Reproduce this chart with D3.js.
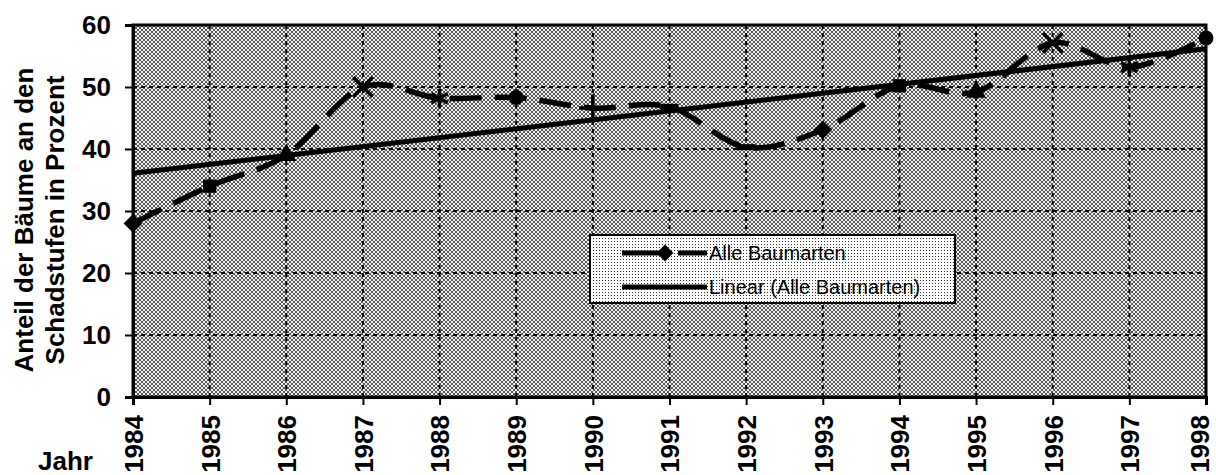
<!DOCTYPE html>
<html>
<head>
<meta charset="utf-8">
<script src="https://cdn.jsdelivr.net/npm/d3@7"></script>
<style>
  body { margin: 0; background: #fff; }
  svg { display: block; font-family: "Liberation Sans", Arial, sans-serif; }
</style>
</head>
<body>
<div id="chart"></div>
<script>
// Data
const years = [1984, 1985, 1986, 1987, 1988, 1989, 1990, 1991, 1992, 1993, 1994, 1995, 1996, 1997, 1998];
const shares = [28, 34, 39, 50, 48.2, 48.3, 46.6, 46.8, 40.3, 43.1, 50.2, 49.2, 57.1, 53.2, 57.9];
const markerTypes = ["diamond", "square", "triangle", "x", "star", "circle", "plus", "dash", "dash",
                     "diamond", "square", "triangle", "x", "star", "circle"];
const yTicks = [0, 10, 20, 30, 40, 50, 60];
const seriesName = "Alle Baumarten";
const trendName = "Linear (Alle Baumarten)";

const W = 1216, H = 475;
const margin = { top: 25, right: 10, bottom: 78, left: 133 };
const width = W - margin.left - margin.right;
const height = H - margin.top - margin.bottom;

const svg = d3.select("#chart").append("svg")
    .attr("width", W)
    .attr("height", H);

// halftone-ish fills
const defs = svg.append("defs");
const checker = defs.append("pattern")
    .attr("id", "checker").attr("width", 4).attr("height", 4)
    .attr("patternUnits", "userSpaceOnUse");
checker.append("rect").attr("width", 4).attr("height", 4).attr("fill", "#f2f2f2");
checker.append("rect").attr("width", 2).attr("height", 2).attr("fill", "#555");
checker.append("rect").attr("x", 2).attr("y", 2).attr("width", 2).attr("height", 2).attr("fill", "#555");

const dots = defs.append("pattern")
    .attr("id", "dots").attr("width", 3).attr("height", 3)
    .attr("patternUnits", "userSpaceOnUse");
dots.append("rect").attr("width", 3).attr("height", 3).attr("fill", "#fff");
dots.append("rect").attr("width", 1).attr("height", 1).attr("fill", "#333");

const g = svg.append("g")
    .attr("transform", `translate(${margin.left},${margin.top})`);

// Scales
const x = d3.scaleLinear()
    .domain([d3.min(years), d3.max(years)])
    .range([0, width]);

const y = d3.scaleLinear()
    .domain([0, 60])
    .range([height, 0]);

// plot background
g.append("rect")
    .attr("width", width)
    .attr("height", height)
    .attr("fill", "url(#checker)");

// Gridlines
g.append("g")
    .selectAll("line")
    .data(yTicks.filter(d => d > 0 && d < 60))
    .join("line")
    .attr("x1", 0).attr("x2", width)
    .attr("y1", d => y(d)).attr("y2", d => y(d))
    .attr("stroke", "#000").attr("stroke-width", 2)
    .attr("stroke-dasharray", "4 4");

g.append("g")
    .selectAll("line")
    .data(years.slice(1, -1))
    .join("line")
    .attr("x1", d => x(d)).attr("x2", d => x(d))
    .attr("y1", 0).attr("y2", height)
    .attr("stroke", "#000").attr("stroke-width", 2)
    .attr("stroke-dasharray", "4 4");

// plot border
g.append("rect")
    .attr("width", width)
    .attr("height", height)
    .attr("fill", "none")
    .attr("stroke", "#000")
    .attr("stroke-width", 3);

// Y axis
const yAxis = g.append("g")
    .call(d3.axisLeft(y).tickValues(yTicks).tickSize(8).tickPadding(14));
yAxis.select(".domain").attr("stroke-width", 3);
yAxis.selectAll(".tick line").attr("stroke-width", 2);
yAxis.selectAll("text")
    .attr("font-size", 26).attr("font-weight", "bold")
    .attr("font-family", "Liberation Sans, Arial, sans-serif")
    .attr("fill", "#000");

// X axis
const xAxis = g.append("g")
    .attr("transform", `translate(0,${height})`)
    .call(d3.axisBottom(x).tickValues(years).tickFormat(d3.format("d")).tickSize(8));
xAxis.select(".domain").attr("stroke-width", 3);
xAxis.selectAll(".tick line").attr("stroke-width", 2);
xAxis.selectAll("text")
    .attr("font-size", 26).attr("font-weight", "bold")
    .attr("font-family", "Liberation Sans, Arial, sans-serif")
    .attr("fill", "#000")
    .attr("text-anchor", "end")
    // last label sits right at the page edge, nudge it in a bit
    .attr("transform", (d, i) => `translate(${i === years.length - 1 ? -7 : 0},18) rotate(-90)`)
    .attr("x", 0).attr("y", 0).attr("dy", "0.36em");

// Axis titles
svg.append("text")
    .attr("x", 38).attr("y", 470)
    .attr("font-size", 26).attr("font-weight", "bold")
    .text("Jahr");

const yTitle = svg.append("g")
    .attr("transform", "translate(0,220) rotate(-90)");
yTitle.append("text")
    .attr("y", 33).attr("text-anchor", "middle")
    .attr("font-size", 26).attr("font-weight", "bold")
    .text("Anteil der Bäume an den");
yTitle.append("text")
    .attr("y", 64).attr("text-anchor", "middle")
    .attr("font-size", 26).attr("font-weight", "bold")
    .text("Schadstufen in Prozent");

// Linear trend (least squares on the series)
const xm = d3.mean(years), ym = d3.mean(shares);
const slope = d3.sum(years, (d, i) => (d - xm) * (shares[i] - ym)) / d3.sum(years, d => (d - xm) ** 2);
const trendAt = yr => ym + slope * (yr - xm);
const xExtent = d3.extent(years);

g.append("line")
    .attr("x1", x(xExtent[0])).attr("y1", y(trendAt(xExtent[0])))
    .attr("x2", x(xExtent[1])).attr("y2", y(trendAt(xExtent[1])))
    .attr("stroke", "#000").attr("stroke-width", 5);

// Smoothed dashed series line
const points = years.map((yr, i) => ({ year: yr, value: shares[i], marker: markerTypes[i] }));

const line = d3.line()
    .x(d => x(d.year))
    .y(d => y(d.value))
    .curve(d3.curveCardinal.tension(0));

g.append("path")
    .datum(points)
    .attr("d", line)
    .attr("fill", "none")
    .attr("stroke", "#000")
    .attr("stroke-width", 5.5)
    .attr("stroke-dasharray", "32 13");

// Markers
function drawMarker(sel, type, size) {
    if (type === "x") {
        sel.append("path").attr("d", d3.symbol(d3.symbolX, size * 5)())
            .attr("stroke", "#000").attr("stroke-width", 3.5).attr("fill", "none");
    } else if (type === "star") {
        sel.append("path").attr("d", d3.symbol(d3.symbolAsterisk, size * 5)())
            .attr("stroke", "#000").attr("stroke-width", 3.5).attr("fill", "none");
    } else if (type === "plus") {
        sel.append("path").attr("d", d3.symbol(d3.symbolPlus, size * 5)())
            .attr("stroke", "#000").attr("stroke-width", 3.5).attr("fill", "none");
    } else if (type === "dash") {
        sel.append("rect").attr("x", -9).attr("y", -3).attr("width", 18).attr("height", 6).attr("fill", "#000");
    } else {
        const sym = { diamond: d3.symbolDiamond2, square: d3.symbolSquare, triangle: d3.symbolTriangle, circle: d3.symbolCircle }[type];
        const s = type === "diamond" ? size * 4.5 : size * 3.5;
        sel.append("path").attr("d", d3.symbol(sym, s)()).attr("fill", "#000");
    }
}

g.append("g")
    .selectAll("g")
    .data(points)
    .join("g")
    .attr("transform", d => `translate(${x(d.year)},${y(d.value)})`)
    .each(function(d) { drawMarker(d3.select(this), d.marker, 50); });

// Legend
const legend = svg.append("g").attr("transform", "translate(590,235)");
legend.append("rect")
    .attr("width", 365).attr("height", 68)
    .attr("fill", "url(#dots)")
    .attr("stroke", "#000").attr("stroke-width", 2);

const l1 = legend.append("g").attr("transform", "translate(0,18)");
l1.append("line").attr("x1", 32).attr("x2", 72).attr("stroke", "#000").attr("stroke-width", 5);
l1.append("line").attr("x1", 88).attr("x2", 117).attr("stroke", "#000").attr("stroke-width", 5);
l1.append("g").attr("transform", "translate(75,0)")
    .each(function() { drawMarker(d3.select(this), "diamond", 40); });
l1.append("text").attr("x", 119).attr("dy", "0.35em").attr("font-size", 20).text(seriesName);

const l2 = legend.append("g").attr("transform", "translate(0,52)");
l2.append("line").attr("x1", 32).attr("x2", 117).attr("stroke", "#000").attr("stroke-width", 5);
l2.append("text").attr("x", 119).attr("dy", "0.35em").attr("font-size", 20).text(trendName);
</script>
</body>
</html>
